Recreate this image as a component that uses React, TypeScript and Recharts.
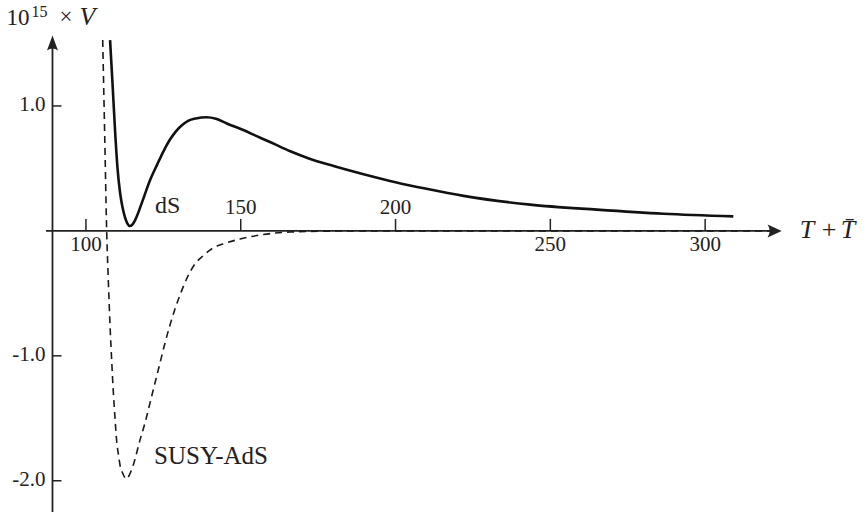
import { LineChart, Line, XAxis, YAxis, ReferenceLine, ReferenceDot } from 'recharts';

// dS branch (solid)
const dsT = [107.8, 108.6, 109.4, 110.2, 111.0, 111.8, 112.6, 113.4, 114.2, 115.0, 115.9, 118.0, 120.7, 123, 125, 127, 129, 131, 133, 135.5, 139, 142, 145.5, 150, 155, 160, 166, 172, 180, 190, 200, 210, 222, 243.5, 265, 286.5, 309.1];
const dsV = [1.527, 1.175, 0.807, 0.503, 0.311, 0.191, 0.111, 0.059, 0.039, 0.051, 0.087, 0.22, 0.405, 0.53, 0.635, 0.725, 0.795, 0.845, 0.88, 0.9, 0.91, 0.898, 0.86, 0.815, 0.76, 0.705, 0.637, 0.58, 0.52, 0.452, 0.39, 0.337, 0.28, 0.21, 0.17, 0.137, 0.116];

// SUSY-AdS branch (dashed)
const adsT = [105.42, 106.07, 106.71, 107.23, 107.78, 108.33, 108.84, 109.39, 109.94, 110.52, 111.0, 111.98, 112.95, 115.3, 117.47, 119.08, 120.7, 122.31, 123.93, 125.54, 127.16, 128.77, 130.39, 132.65, 135.23, 137.82, 141.05, 144.28, 149.77, 155.26, 165.92, 182.07, 200, 250, 322];
const adsV = [1.527, 0.759, -0.006, -0.393, -0.753, -1.041, -1.286, -1.497, -1.686, -1.793, -1.873, -1.945, -1.985, -1.873, -1.673, -1.537, -1.377, -1.217, -1.057, -0.897, -0.753, -0.625, -0.513, -0.377, -0.265, -0.2, -0.137, -0.105, -0.065, -0.037, -0.009, -0.001, 0, 0, 0];

const xTicks = [100, 150, 200, 250, 300];
const xTicksAbove = [150, 200];
const yTicks = [1.0, -1.0, -2.0];

const dsData = dsT.map((t, i) => ({ t, v: dsV[i] }));
const adsData = adsT.map((t, i) => ({ t, v: adsV[i] }));

const X_MIN = 80;
const X_MAX = 340;
const Y_MIN = -2.25;
const Y_MAX = 1.8;
const AXIS_X = 89.2; // vertical axis position
const X_START = 87.1;
const X_END = 324.7; // arrow tip, horizontal axis
const Y_END = 1.564; // arrow tip, vertical axis

const font = '"Liberation Serif", "DejaVu Serif", serif';
const ink = '#222';

export default function App() {
  return (
    <div style={{ position: 'absolute', left: 0, top: 0, width: 866, height: 514, background: '#fff' }}>
      <LineChart width={866} height={514} margin={{ top: 6, right: 37, bottom: 2, left: 24 }}>
        <XAxis type="number" dataKey="t" domain={[X_MIN, X_MAX]} hide allowDataOverflow />
        <YAxis type="number" domain={[Y_MIN, Y_MAX]} hide allowDataOverflow />

        <ReferenceLine segment={[{ x: X_START, y: 0 }, { x: X_END - 3, y: 0 }]} stroke={ink} strokeWidth={1.8} />
        <ReferenceLine segment={[{ x: AXIS_X, y: Y_MIN }, { x: AXIS_X, y: Y_END - 0.03 }]} stroke={ink} strokeWidth={1.8} />

        <Line data={adsData} dataKey="v" type="monotone" stroke="#1a1a1a" strokeWidth={1.6} strokeDasharray="7 5" dot={false} isAnimationActive={false} />
        <Line data={dsData} dataKey="v" type="monotone" stroke="#111" strokeWidth={2.6} dot={false} isAnimationActive={false} />

        {xTicks.map((t) => (
          <ReferenceDot
            key={'x' + t}
            x={t}
            y={0}
            shape={(p: any) => (
              <g>
                <line x1={p.cx} y1={p.cy} x2={p.cx} y2={p.cy - 12} stroke={ink} strokeWidth={1.5} />
                <text
                  x={p.cx}
                  y={xTicksAbove.includes(t) ? p.cy - 17 : p.cy + 20}
                  textAnchor="middle"
                  style={{ fontFamily: font, fontSize: 21 }}
                  fill={ink}
                >
                  {t}
                </text>
              </g>
            )}
          />
        ))}

        {yTicks.map((t) => (
          <ReferenceDot
            key={'y' + t}
            x={AXIS_X}
            y={t}
            shape={(p: any) => (
              <g>
                <line x1={p.cx} y1={p.cy} x2={p.cx + 9} y2={p.cy} stroke={ink} strokeWidth={1.5} />
                <text x={p.cx - 7} y={p.cy + 5} textAnchor="end" style={{ fontFamily: font, fontSize: 21 }} fill={ink}>
                  {t.toFixed(1)}
                </text>
              </g>
            )}
          />
        ))}

        {/* horizontal axis arrow + label */}
        <ReferenceDot
          x={X_END}
          y={0}
          shape={(p: any) => (
            <g style={{ fontFamily: font, fontSize: 26 }} fill={ink}>
              <path
                d={`M${p.cx},${p.cy} L${p.cx - 14},${p.cy - 6.5} Q${p.cx - 10},${p.cy} ${p.cx - 14},${p.cy + 6.5} Z`}
              />
              <text x={p.cx + 18} y={p.cy + 7} style={{ fontStyle: 'italic' }}>T</text>
              <text x={p.cx + 40} y={p.cy + 7}>+</text>
              <text x={p.cx + 59} y={p.cy + 7} style={{ fontStyle: 'italic' }}>T̄</text>
            </g>
          )}
        />

        {/* vertical axis arrow + label */}
        <ReferenceDot
          x={AXIS_X}
          y={Y_END}
          shape={(p: any) => (
            <g style={{ fontFamily: font }} fill={ink}>
              <path
                d={`M${p.cx},${p.cy} L${p.cx - 5.5},${p.cy + 15} Q${p.cx},${p.cy + 11} ${p.cx + 5.5},${p.cy + 15} Z`}
              />
              <text x={p.cx - 46} y={p.cy - 10} style={{ fontSize: 23 }}>10</text>
              <text x={p.cx - 21} y={p.cy - 18} style={{ fontSize: 16 }}>15</text>
              <text x={p.cx + 7} y={p.cy - 11} style={{ fontSize: 23 }}>×</text>
              <text x={p.cx + 27} y={p.cy - 10} style={{ fontSize: 26, fontStyle: 'italic' }}>V</text>
            </g>
          )}
        />

        <ReferenceDot
          x={122.3}
          y={0.14}
          shape={(p: any) => (
            <text x={p.cx} y={p.cy} style={{ fontFamily: font, fontSize: 24 }} fill={ink}>
              dS
            </text>
          )}
        />
        <ReferenceDot
          x={122.0}
          y={-1.865}
          shape={(p: any) => (
            <text x={p.cx} y={p.cy} style={{ fontFamily: font, fontSize: 25 }} fill={ink}>
              SUSY-AdS
            </text>
          )}
        />
      </LineChart>
    </div>
  );
}
